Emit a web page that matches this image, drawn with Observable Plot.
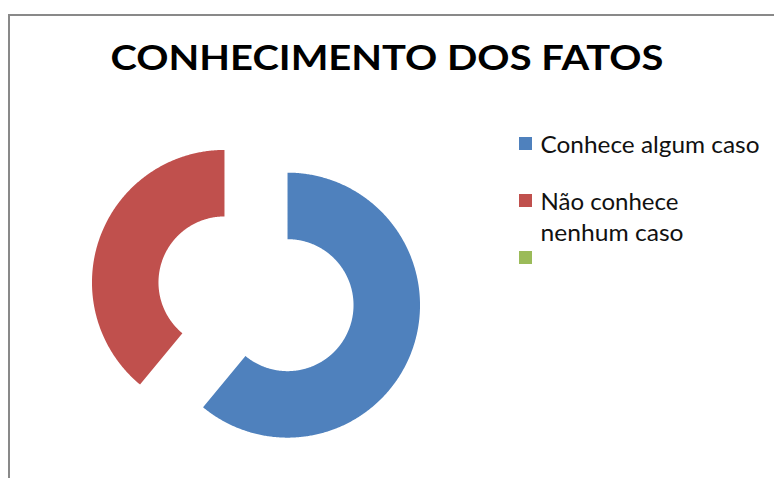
<!DOCTYPE html>
<html><head><meta charset="utf-8">
<script src="https://cdn.jsdelivr.net/npm/d3@7"></script>
<script src="https://cdn.jsdelivr.net/npm/@observablehq/plot@0.6"></script>
<style>
html,body{margin:0;padding:0;background:#fff;}
#wrap{position:relative;width:774px;height:478px;overflow:hidden;}
#border{position:absolute;left:8px;top:14px;width:900px;height:600px;border-left:2px solid #898989;border-top:2px solid #898989;}
#chart{position:absolute;left:0;top:0;}
</style></head><body>
<div id="wrap"><div id="border"></div><div id="chart"></div></div>
<script>
// ---- data ----
const title = "CONHECIMENTO DOS FATOS";
const categories = ["Conhece algum caso", "Não conhece nenhum caso", "(vazio)"];
const values = [61, 39, 0];
const colors = ["#4F81BD", "#C0504D", "#9BBB59"];
const legendLabels = ["Conhece algum caso", "Não conhece\nnenhum caso", ""];

// ---- layout ----
const W = 774, H = 478;
const cx = 255.5, cy = 293.3, R = 132.5, R0 = 66, explode = 33.5;
const legendX = 519, legendY0 = 143.5, legendStep = 57, sq = 13, lineStep = 31;
const textWidths = {"CONHECIMENTO DOS FATOS": 553, "Conhece algum caso": 219, "Não conhece": 138, "nenhum caso": 143};

const pie = d3.pie().sort(null).value(d => d.value);
const slices = pie(categories.map((c, i) => ({category: c, value: values[i]})));
const arcPts = [];
for (const s of slices) {
  const span = s.endAngle - s.startAngle;
  if (span <= 0) continue;
  const mid = (s.startAngle + s.endAngle) / 2;
  const ox = cx + explode * Math.sin(mid), oy = cy - explode * Math.cos(mid);
  const n = Math.max(4, Math.ceil(span * 120));
  for (let k = 0; k <= n; k++) {
    const a = s.startAngle + span * k / n;
    arcPts.push({category: s.data.category, x: ox + R * Math.sin(a), y: oy - R * Math.cos(a)});
  }
  for (let k = n; k >= 0; k--) {
    const a = s.startAngle + span * k / n;
    arcPts.push({category: s.data.category, x: ox + R0 * Math.sin(a), y: oy - R0 * Math.cos(a)});
  }
}
const legendRows = categories.map((c, i) => ({category: c, yc: legendY0 + legendStep * i}));
const legendLines = [];
legendLabels.forEach((lab, i) => lab.split("\n").forEach((t, j) => {
  if (t) legendLines.push({text: t, y: legendY0 + legendStep * i + lineStep * j});
}));

const chart = Plot.plot({
  width: W, height: H, margin: 0,
  x: {domain: [0, W], range: [0, W], axis: null},
  y: {domain: [0, H], range: [0, H], axis: null},
  color: {domain: categories, range: colors},
  style: {fontFamily: "Lato", background: "transparent", overflow: "visible"},
  marks: [
    Plot.line(arcPts, {x: "x", y: "y", z: "category", fill: "category", stroke: "none", curve: "linear-closed"}),
    Plot.rect(legendRows, {x1: () => legendX, x2: () => legendX + sq, y1: d => d.yc - sq / 2, y2: d => d.yc + sq / 2, fill: "category"}),
    Plot.text(legendLines, {x: () => legendX + 21, y: "y", text: "text", textAnchor: "start", lineAnchor: "middle", fontSize: 23.5, fill: "#111", dy: 1}),
    Plot.text([title], {x: () => 386.5, y: () => 56.5, text: d => d, textAnchor: "middle", lineAnchor: "middle", fontSize: 35, fontWeight: 700, fill: "#000", dy: 1.3})
  ]
});
document.getElementById("chart").appendChild(chart);
d3.select(chart).selectAll("text").each(function() {
  const t = this.textContent;
  if (textWidths[t]) { this.setAttribute("textLength", textWidths[t]); this.setAttribute("lengthAdjust", "spacingAndGlyphs"); }
});
</script>
</body></html>
